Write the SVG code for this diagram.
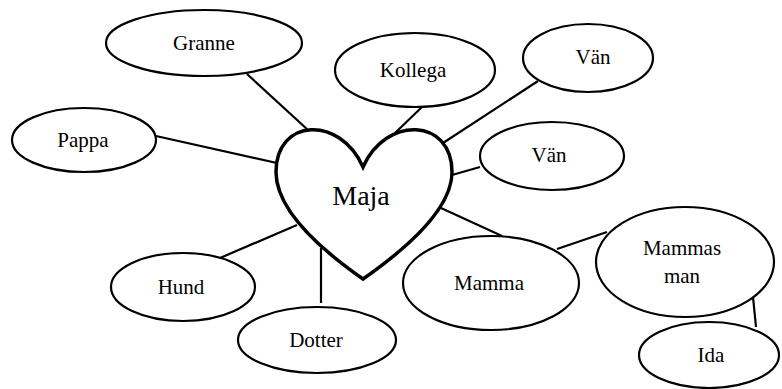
<svg xmlns="http://www.w3.org/2000/svg" width="782" height="389" viewBox="0 0 782 389">
<style>
.n{fill:#fff;stroke:#000;stroke-width:2.2}
.t{font-family:"Liberation Serif","DejaVu Serif",serif;font-size:21px;fill:#000;text-anchor:middle}
.c line{stroke:#000;stroke-width:2.2}
</style>
<rect width="782" height="389" fill="#fff"/>
<g class="c" id="connectors">
<line x1="247" y1="74" x2="308" y2="130"/>
<line x1="156" y1="136" x2="277" y2="163"/>
<line x1="422" y1="107" x2="395" y2="133"/>
<line x1="538" y1="81" x2="443" y2="143"/>
<line x1="480" y1="167" x2="452" y2="175"/>
<line x1="220" y1="258" x2="297" y2="225"/>
<line x1="321" y1="248" x2="321" y2="303"/>
<line x1="441" y1="208" x2="502" y2="236"/>
<line x1="557" y1="249" x2="607" y2="232"/>
<line x1="753" y1="297" x2="756" y2="327"/>
</g>
<g id="granne"><ellipse class="n" cx="204" cy="43" rx="98" ry="33"/><text class="t" x="204" y="50">Granne</text></g>
<g id="pappa"><ellipse class="n" cx="84" cy="140" rx="72" ry="32"/><text class="t" x="83" y="147">Pappa</text></g>
<g id="kollega"><ellipse class="n" cx="415" cy="70" rx="80" ry="37"/><text class="t" x="413" y="77">Kollega</text></g>
<g id="van1"><ellipse class="n" cx="588" cy="58" rx="65" ry="34"/><text class="t" x="593" y="64">Vän</text></g>
<g id="van2"><ellipse class="n" cx="552" cy="156" rx="72" ry="34"/><text class="t" x="549" y="162">Vän</text></g>
<g id="maja"><path d="M363,167 C340,115 276,118 276,172 C276,200 300,235 363,279 C426,235 452,200 452,172 C452,118 386,115 363,167 Z" fill="#fff" stroke="#000" stroke-width="3.5" stroke-linejoin="miter"/><text class="t" x="361" y="205" style="font-size:28px">Maja</text></g>
<g id="hund"><ellipse class="n" cx="183" cy="287" rx="72" ry="34"/><text class="t" x="181" y="294">Hund</text></g>
<g id="dotter"><ellipse class="n" cx="317" cy="340" rx="79" ry="33"/><text class="t" x="316" y="347">Dotter</text></g>
<g id="mamma"><ellipse class="n" cx="491" cy="283" rx="88" ry="47"/><text class="t" x="489" y="290">Mamma</text></g>
<g id="mammasman"><ellipse class="n" cx="685" cy="262" rx="89" ry="55"/><text class="t" x="682" y="255">Mammas</text><text class="t" x="682" y="283">man</text></g>
<g id="ida"><ellipse class="n" cx="709" cy="355" rx="70" ry="33"/><text class="t" x="711" y="362">Ida</text></g>
</svg>
